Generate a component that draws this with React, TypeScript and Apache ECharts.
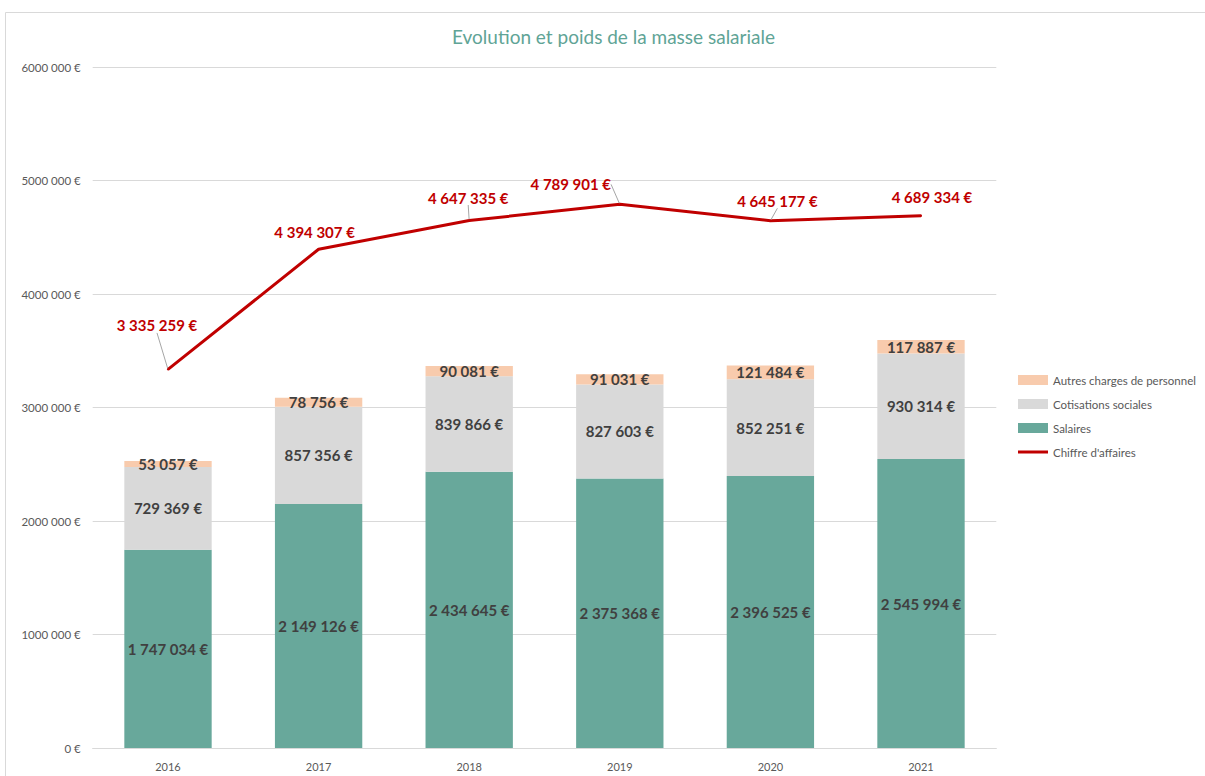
import React, { useEffect, useRef } from "react";
import * as echarts from "echarts";

const years = ["2016", "2017", "2018", "2019", "2020", "2021"];
const salaires = [1747034, 2149126, 2434645, 2375368, 2396525, 2545994];
const cotisations = [729369, 857356, 839866, 827603, 852251, 930314];
const autres = [53057, 78756, 90081, 91031, 121484, 117887];
const chiffre = [3335259, 4394307, 4647335, 4789901, 4645177, 4689334];
const yTicks = [0, 1000000, 2000000, 3000000, 4000000, 5000000, 6000000];

// label offsets (styling) for the line labels, in px from the point
const lineLabelOffsets = [
  [-11, -44],
  [-4, -17],
  [-1, -23],
  [-49, -20],
  [7, -20],
  [11, -19],
];
const leaderLines = [true, false, true, true, true, false];

const fmt = (v: number) =>
  Math.round(v)
    .toString()
    .replace(/\B(?=(\d{3})+(?!\d))/g, " ") + " €";

const fmtAxis = (v: number) => {
  if (v === 0) return "0 €";
  const s = Math.round(v).toString();
  return s.slice(0, s.length - 3) + " " + s.slice(s.length - 3) + " €";
};

const FONT = "Lato";

export default function App() {
  const ref = useRef<HTMLDivElement>(null);
  useEffect(() => {
    if (!ref.current) return;
    const chart = echarts.init(ref.current, null, { renderer: "svg" });
    const barLabel = {
      show: true,
      position: "inside" as const,
      color: "#404040",
      fontFamily: FONT,
      fontWeight: "bold" as const,
      fontSize: 15,
      formatter: (p: any) => fmt(p.value),
    };
    chart.setOption({
      animation: false,
      backgroundColor: "#ffffff",
      textStyle: { fontFamily: FONT },
      title: {
        text: "Evolution et poids de la masse salariale",
        left: 452,
        top: 27,
        padding: 0,
        textStyle: {
          color: "#5FA496",
          fontFamily: FONT,
          fontWeight: "normal",
          fontSize: 19,
        },
      },
      graphic: [
        {
          type: "rect",
          shape: { x: 5.5, y: 12.5, width: 1400, height: 900 },
          style: { fill: "none", stroke: "#D9D9D9", lineWidth: 1 },
          silent: true,
        },
      ],
      legend: {
        orient: "vertical",
        left: 1018,
        top: 374,
        padding: 0,
        itemGap: 12,
        itemWidth: 30,
        itemHeight: 10,
        textStyle: { color: "#595959", fontSize: 11.5, fontFamily: FONT },
        data: [
          { name: "Autres charges de personnel", icon: "rect" },
          { name: "Cotisations sociales", icon: "rect" },
          { name: "Salaires", icon: "rect" },
          { name: "Chiffre d'affaires", icon: "path://M0 0 H30 V3 H0 Z" },
        ],
      },
      grid: { left: 92.7, right: 208.7, top: 67, bottom: 28 },
      xAxis: {
        type: "category",
        data: years,
        axisLine: { show: true, lineStyle: { color: "#D9D9D9" } },
        axisTick: { show: false },
        axisLabel: { color: "#595959", fontSize: 11, margin: 13, fontFamily: FONT },
      },
      yAxis: {
        type: "value",
        min: yTicks[0],
        max: yTicks[yTicks.length - 1],
        interval: yTicks[1] - yTicks[0],
        axisLine: { show: false },
        axisTick: { show: false },
        splitLine: { lineStyle: { color: "#D9D9D9" } },
        axisLabel: {
          color: "#595959",
          fontSize: 11.5,
          margin: 12,
          fontFamily: FONT,
          formatter: fmtAxis,
        },
      },
      series: [
        {
          name: "Salaires",
          type: "bar",
          stack: "total",
          barWidth: "58%",
          data: salaires,
          itemStyle: { color: "#68A89B" },
          label: barLabel,
        },
        {
          name: "Cotisations sociales",
          type: "bar",
          stack: "total",
          data: cotisations,
          itemStyle: { color: "#D9D9D9" },
          label: barLabel,
        },
        {
          name: "Autres charges de personnel",
          type: "bar",
          stack: "total",
          data: autres,
          itemStyle: { color: "#F8CBAD" },
          label: barLabel,
        },
        {
          name: "Chiffre d'affaires",
          type: "line",
          data: chiffre.map((v, i) => ({
            value: v,
            labelLine: { show: leaderLines[i] },
          })),
          symbol: "circle",
          symbolSize: 2,
          showSymbol: true,
          lineStyle: { color: "#C00000", width: 3 },
          itemStyle: { color: "#C00000" },
          label: {
            show: true,
            position: "top",
            color: "#C00000",
            fontFamily: FONT,
            fontWeight: "bold",
            fontSize: 15,
            formatter: (p: any) => fmt(p.value),
          },
          labelLine: { show: true, lineStyle: { color: "#A6A6A6", width: 1 } },
          labelLayout: (params: any) => {
            const off = lineLabelOffsets[params.dataIndex] || [0, -18];
            const cx = params.rect.x + params.rect.width / 2;
            const cy = params.rect.y + params.rect.height / 2;
            return {
              x: cx + off[0],
              y: cy + off[1],
              align: "center",
              verticalAlign: "middle",
            };
          },
        },
      ],
    });
    return () => chart.dispose();
  }, []);
  return (
    <div
      ref={ref}
      style={{ position: "absolute", left: 0, top: 0, width: 1205, height: 776 }}
    />
  );
}
